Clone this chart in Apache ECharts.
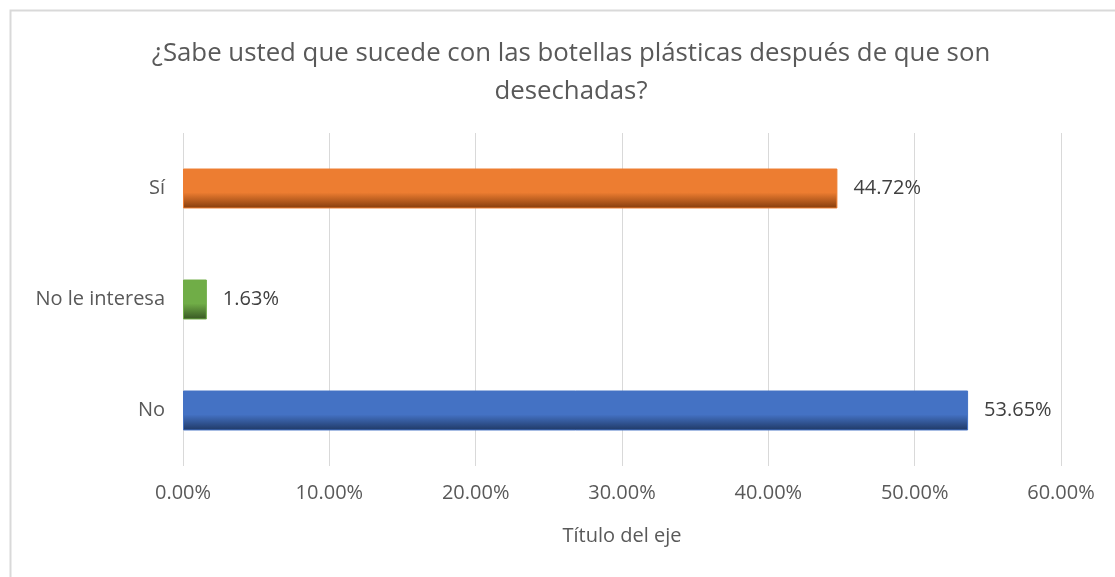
<!DOCTYPE html>
<html>
<head>
<meta charset="utf-8">
<script src="https://cdn.jsdelivr.net/npm/echarts@6/dist/echarts.min.js"></script>
<style>html,body{margin:0;padding:0;background:#fff}#c{width:1115px;height:577px}</style>
</head>
<body>
<div id="c"></div>
<script>
var categories = ['No', 'No le interesa', 'Sí'];
var values = [53.65, 1.63, 44.72];
var tickValues = [0, 10, 20, 30, 40, 50, 60];
var barColors = [
  ['#4472C4', '#4472C4', '#1F3864'],
  ['#70AD47', '#70AD47', '#375623'],
  ['#ED7D31', '#ED7D31', '#843C0C']
];
var titleText = '¿Sabe usted que sucede con las botellas plásticas después de que son\ndesechadas?';
var axisTitle = 'Título del eje';

var font = '"Open Sans", "Liberation Sans", sans-serif';
var chart = echarts.init(document.getElementById('c'));
chart.setOption({
  animation: false,
  backgroundColor: '#fff',
  graphic: [{
    type: 'rect', left: 8, top: 8,
    shape: {width: 1120, height: 580},
    style: {fill: 'none', stroke: '#d9d9d9', lineWidth: 2},
    silent: true
  }],
  title: {
    text: titleText,
    left: 566, textAlign: 'center', top: 30,
    textStyle: {fontFamily: font, fontSize: 25.8, fontWeight: 'normal', color: '#595959', lineHeight: 38}
  },
  grid: {left: 183, right: 54, top: 133, bottom: 111, containLabel: false},
  xAxis: {
    type: 'value', min: 0, max: 60, interval: 10,
    name: axisTitle, nameLocation: 'middle', nameGap: 60,
    nameTextStyle: {fontFamily: font, fontSize: 20, color: '#595959'},
    axisLine: {show: false}, axisTick: {show: false},
    splitLine: {lineStyle: {color: '#d9d9d9', width: 1}},
    axisLabel: {
      fontFamily: font, fontSize: 20, color: '#595959', margin: 17,
      formatter: function (v) { return v.toFixed(2) + '%'; }
    }
  },
  yAxis: {
    type: 'category', data: categories,
    axisLine: {show: false}, axisTick: {show: false},
    axisLabel: {fontFamily: font, fontSize: 20, color: '#595959', margin: 18}
  },
  series: [{
    type: 'bar',
    barCategoryGap: '64%',
    data: values.map(function (v, i) {
      var c = barColors[i];
      return {
        value: v,
        itemStyle: {
          color: new echarts.graphic.LinearGradient(0, 0, 0, 1, [
            {offset: 0, color: c[0]},
            {offset: 0.6, color: c[1]},
            {offset: 1, color: c[2]}
          ]),
          borderColor: c[0], borderWidth: 1
        }
      };
    }),
    label: {
      show: true, position: 'right', distance: 16,
      fontFamily: font, fontSize: 20, color: '#404040',
      formatter: function (p) { return p.value.toFixed(2) + '%'; }
    }
  }]
});
</script>
</body>
</html>
